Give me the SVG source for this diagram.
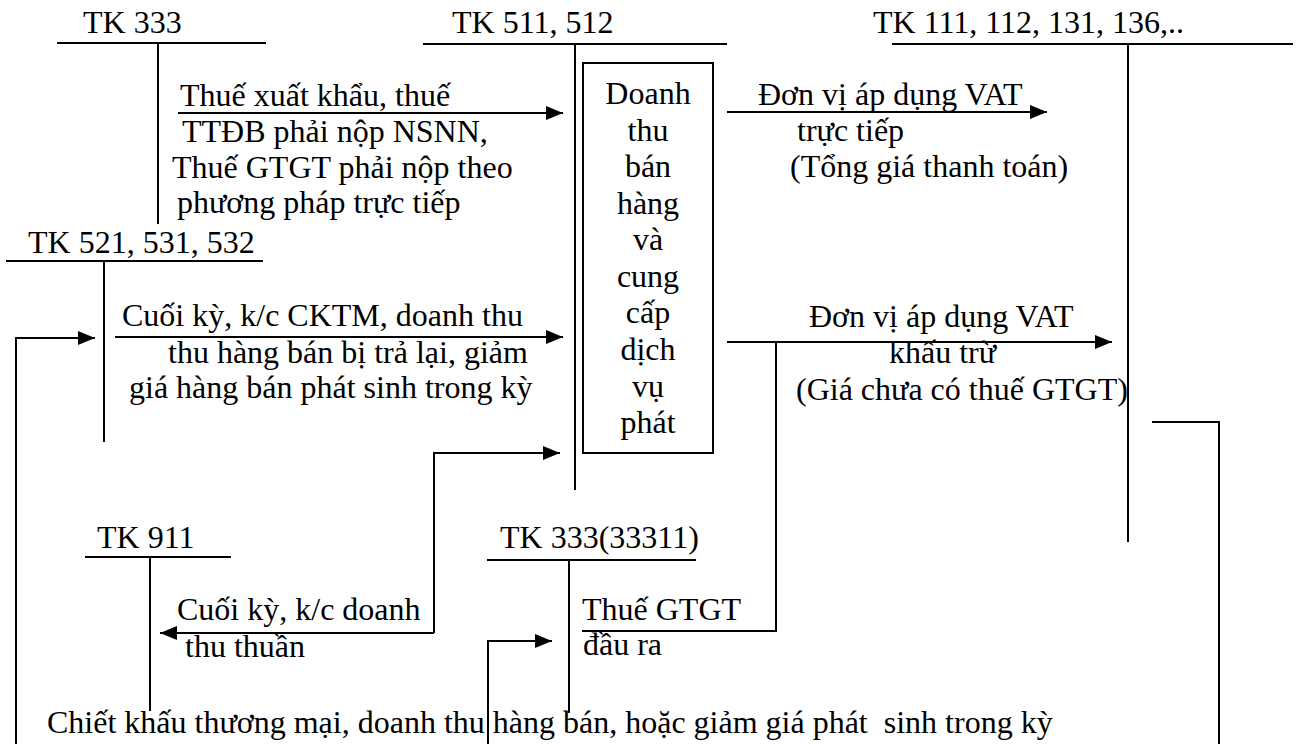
<svg xmlns="http://www.w3.org/2000/svg" width="1301" height="744" viewBox="0 0 1301 744" font-family="'Liberation Serif', 'Times New Roman', serif">
<style>
text{font-family:'Liberation Serif','Times New Roman',serif;font-size:32px;fill:#000}
.ln{stroke:#000;stroke-width:2;fill:none}
.mid{text-anchor:middle}
</style>
<defs>
<marker id="ah" markerUnits="userSpaceOnUse" markerWidth="18" markerHeight="16" refX="17" refY="7" orient="auto"><path d="M0,0 L17,7 L0,14 z" fill="#000"/></marker>
</defs>
<rect width="1301" height="744" fill="#fff"/>
<g id="tk333">
<text x="83" y="33">TK 333</text>
<path class="ln" d="M57,43 H266 M158,43 V224"/>
</g>
<g id="tk511">
<text x="452" y="33">TK 511, 512</text>
<path class="ln" d="M423,44 H727 M575,44 V490"/>
</g>
<g id="box">
<rect class="ln" x="583" y="63" width="130" height="390"/>
<text class="mid" x="648" y="104">Doanh</text>
<text class="mid" x="648" y="141">thu</text>
<text class="mid" x="648" y="177">bán</text>
<text class="mid" x="648" y="214">hàng</text>
<text class="mid" x="648" y="250">và</text>
<text class="mid" x="648" y="287">cung</text>
<text class="mid" x="648" y="323">cấp</text>
<text class="mid" x="648" y="360">dịch</text>
<text class="mid" x="648" y="397">vụ</text>
<text class="mid" x="648" y="433">phát</text>
</g>
<g id="tk111">
<text x="873" y="33">TK 111, 112, 131, 136,..</text>
<path class="ln" d="M892,44 H1293 M1128,44 V542"/>
</g>
<g id="tk521">
<text x="28" y="253">TK 521, 531, 532</text>
<path class="ln" d="M6,261 H263 M104,261 V442"/>
</g>
<g id="tk911">
<text x="97" y="548">TK 911</text>
<path class="ln" d="M85,557 H231 M150,557 V711"/>
</g>
<g id="tk33311">
<text x="500" y="548">TK 333(33311)</text>
<path class="ln" d="M487,560 H696 M569,560 V713"/>
</g>
<g id="connectors">
<path class="ln" d="M178,113 H563" marker-end="url(#ah)"/>
<path class="ln" d="M727,112 H1047" marker-end="url(#ah)"/>
<path class="ln" d="M115,337 H563" marker-end="url(#ah)"/>
<path class="ln" d="M16,744 V338 H95" marker-end="url(#ah)"/>
<path class="ln" d="M434,633 V453 H560" marker-end="url(#ah)"/>
<path class="ln" d="M434,633 H160" marker-end="url(#ah)"/>
<path class="ln" d="M727,342 H1112" marker-end="url(#ah)"/>
<path class="ln" d="M776,342 V631 H582"/>
<path class="ln" d="M1152,422 H1219 V744"/>
<path class="ln" d="M488,744 V641 H552" marker-end="url(#ah)"/>
</g>
<g id="labels">
<text x="180" y="106">Thuế xuất khẩu, thuế</text>
<text x="182" y="142">TTĐB phải nộp NSNN,</text>
<text x="172" y="178">Thuế GTGT phải nộp theo</text>
<text x="177" y="213">phương pháp trực tiếp</text>
<text x="758" y="105">Đơn vị áp dụng VAT</text>
<text x="797" y="141">trực tiếp</text>
<text x="790" y="177">(Tổng giá thanh toán)</text>
<text x="122" y="326">Cuối kỳ, k/c CKTM, doanh thu</text>
<text x="168" y="363">thu hàng bán bị trả lại, giảm</text>
<text x="129" y="398">giá hàng bán phát sinh trong kỳ</text>
<text x="809" y="327">Đơn vị áp dụng VAT</text>
<text x="889" y="363">khấu trừ</text>
<text x="796" y="400">(Giá chưa có thuế GTGT)</text>
<text x="177" y="620">Cuối kỳ, k/c doanh</text>
<text x="185" y="657">thu thuần</text>
<text x="582" y="620">Thuế GTGT</text>
<text x="583" y="655">đầu ra</text>
<text x="47" y="733" xml:space="preserve">Chiết khấu thương mại, doanh thu hàng bán, hoặc giảm giá phát  sinh trong kỳ</text>
</g>
</svg>
